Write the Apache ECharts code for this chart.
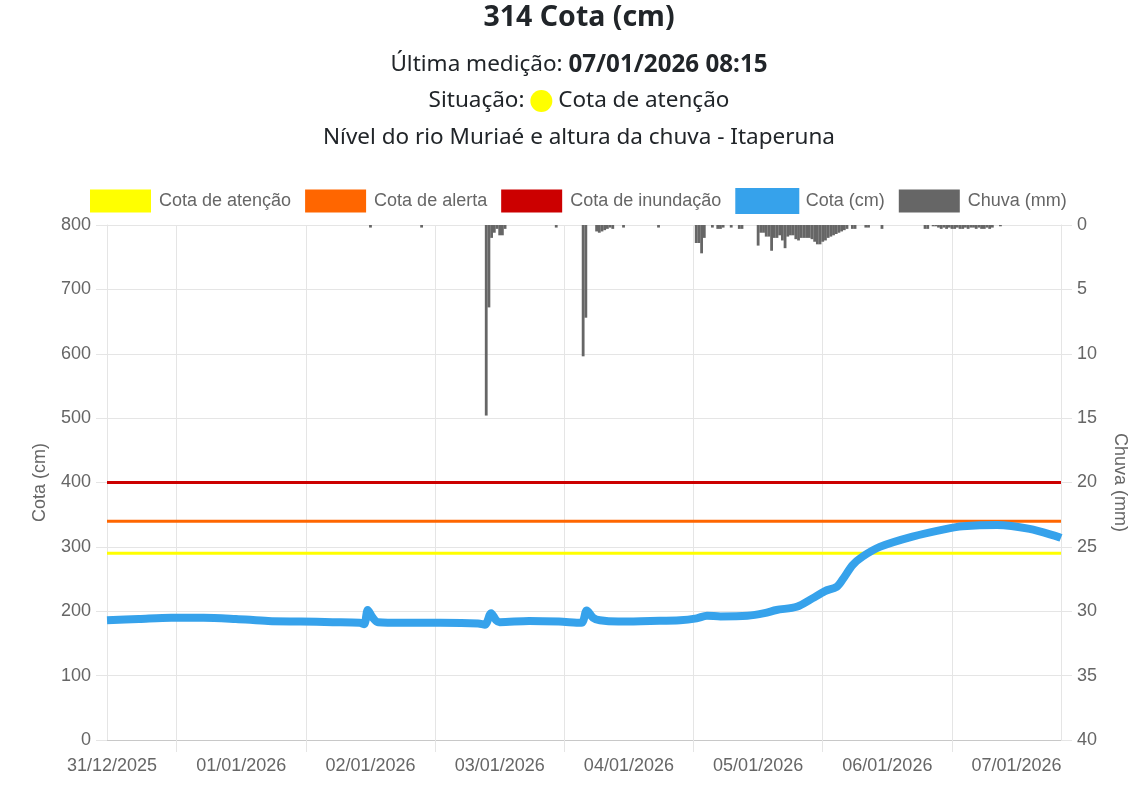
<!DOCTYPE html>
<html>
<head>
<meta charset="utf-8">
<script src="https://cdn.jsdelivr.net/npm/echarts@6/dist/echarts.min.js"></script>
<style>
html,body{margin:0;padding:0;background:#fff;}
#chart{width:1147px;height:785px;}
</style>
</head>
<body>
<div id="chart"></div>
<script>
// ---- data ----
const axisStart = "2025-12-30 23:04";
const axisEnd = "2026-01-07 08:15";
const dayLabels = ["2025-12-31 00:00","2026-01-01 00:00","2026-01-02 00:00","2026-01-03 00:00","2026-01-04 00:00","2026-01-05 00:00","2026-01-06 00:00","2026-01-07 00:00"];
const gridTimes = ["2025-12-31 12:00","2026-01-01 12:00","2026-01-02 12:00","2026-01-03 12:00","2026-01-04 12:00","2026-01-05 12:00","2026-01-06 12:00"];

const thresholdNames = ["Cota de atenção","Cota de alerta","Cota de inundação"];
const thresholdValues = [290, 340, 400];
const thresholdColors = ["#ffff00","#ff6600","#cc0000"];

const lineTimes = ["2025-12-30 23:04","2025-12-31 05:00","2025-12-31 11:00","2025-12-31 17:00","2025-12-31 23:00",
"2026-01-01 05:00","2026-01-01 11:00","2026-01-01 17:00","2026-01-01 22:00","2026-01-01 22:50","2026-01-01 23:30",
"2026-01-02 00:25","2026-01-02 01:25","2026-01-02 06:00","2026-01-02 13:00","2026-01-02 20:00","2026-01-02 21:15",
"2026-01-02 22:25","2026-01-02 23:20","2026-01-03 00:00","2026-01-03 05:30","2026-01-03 11:00","2026-01-03 15:10",
"2026-01-03 16:10","2026-01-03 17:20","2026-01-03 18:35","2026-01-03 22:00","2026-01-04 04:00","2026-01-04 09:30",
"2026-01-04 12:35","2026-01-04 14:30","2026-01-04 17:00","2026-01-04 22:00","2026-01-05 01:10","2026-01-05 03:25",
"2026-01-05 07:10","2026-01-05 10:05","2026-01-05 12:20","2026-01-05 14:35","2026-01-05 15:40","2026-01-05 17:35",
"2026-01-05 19:25","2026-01-05 22:35","2026-01-06 04:40","2026-01-06 11:00","2026-01-06 14:00","2026-01-06 20:20",
"2026-01-07 02:25","2026-01-07 07:35","2026-01-07 08:15"];
const lineValues = [186,188,190,190,188,
185,184,183,182,180,202,
190,183,182,182,181,179,
197,186,183,185,184,182,
201,190,186,184,185,186,
189,193,192,193,197,202,
207,220,231,238,249,272,
285,300,316,328,332,334,
328,316,314];

const rainTimes = ["2026-01-02 00:00","2026-01-02 09:30",
"2026-01-02 21:30","2026-01-02 22:00","2026-01-02 22:30","2026-01-02 23:00","2026-01-02 23:30","2026-01-03 00:00","2026-01-03 00:30","2026-01-03 01:00",
"2026-01-03 10:30","2026-01-03 15:30","2026-01-03 16:00",
"2026-01-03 18:00","2026-01-03 18:30","2026-01-03 19:00","2026-01-03 19:30","2026-01-03 20:00","2026-01-03 20:30","2026-01-03 21:00",
"2026-01-03 23:00","2026-01-04 05:30",
"2026-01-04 12:30","2026-01-04 13:00","2026-01-04 13:30","2026-01-04 14:00",
"2026-01-04 15:30","2026-01-04 16:30","2026-01-04 17:00","2026-01-04 17:30","2026-01-04 19:00","2026-01-04 20:30","2026-01-04 21:00",
"2026-01-05 00:00","2026-01-05 00:30","2026-01-05 01:00","2026-01-05 01:30","2026-01-05 02:00","2026-01-05 02:30","2026-01-05 03:00","2026-01-05 03:30",
"2026-01-05 04:00","2026-01-05 04:30","2026-01-05 05:00","2026-01-05 05:30","2026-01-05 06:00","2026-01-05 06:30","2026-01-05 07:00","2026-01-05 07:30",
"2026-01-05 08:00","2026-01-05 08:30","2026-01-05 09:00","2026-01-05 09:30","2026-01-05 10:00","2026-01-05 10:30","2026-01-05 11:00","2026-01-05 11:30",
"2026-01-05 12:00","2026-01-05 12:30","2026-01-05 13:00","2026-01-05 13:30","2026-01-05 14:00","2026-01-05 14:30","2026-01-05 15:00","2026-01-05 15:30",
"2026-01-05 16:00","2026-01-05 16:30","2026-01-05 17:30","2026-01-05 18:00","2026-01-05 20:00","2026-01-05 20:30","2026-01-05 23:00",
"2026-01-06 07:00","2026-01-06 07:30","2026-01-06 08:30","2026-01-06 09:00","2026-01-06 09:30","2026-01-06 10:00","2026-01-06 10:30","2026-01-06 11:00",
"2026-01-06 11:30","2026-01-06 12:00","2026-01-06 12:30","2026-01-06 13:00","2026-01-06 13:30","2026-01-06 14:00","2026-01-06 14:30","2026-01-06 15:00",
"2026-01-06 15:30","2026-01-06 16:00","2026-01-06 16:30","2026-01-06 17:00","2026-01-06 17:30","2026-01-06 18:00","2026-01-06 18:30","2026-01-06 19:00",
"2026-01-06 19:30","2026-01-06 21:00"];
const rainValues = [0.2,0.2,
14.8,6.4,1.0,0.6,0.3,0.8,0.8,0.3,
0.2,10.2,7.2,
0.5,0.6,0.5,0.4,0.3,0.2,0.3,
0.2,0.2,
1.4,1.4,2.2,1.0,
0.2,0.3,0.3,0.2,0.2,0.3,0.3,
1.6,0.6,0.6,0.9,0.9,2.0,1.0,1.0,
0.8,1.2,1.8,0.9,0.8,0.8,1.1,1.2,
1.0,1.0,1.0,1.0,1.1,1.3,1.5,1.5,
1.3,1.2,1.0,0.9,0.8,0.7,0.6,0.5,
0.4,0.3,0.3,0.3,0.2,0.2,0.3,
0.3,0.3,0.1,0.1,0.2,0.3,0.2,0.3,
0.2,0.3,0.3,0.2,0.3,0.3,0.2,0.3,
0.2,0.2,0.3,0.2,0.3,0.3,0.2,0.3,
0.2,0.1];

// ---- helpers ----
const T = s => Date.parse(s.replace(' ', 'T') + ':00Z');
const pad = n => (n < 10 ? '0' : '') + n;
const fmtDay = v => { const d = new Date(v); return pad(d.getUTCDate()) + '/' + pad(d.getUTCMonth() + 1) + '/' + d.getUTCFullYear(); };

const xMin = T(axisStart), xMax = T(axisEnd);
const AX = 'Liberation Sans, Arial, sans-serif';
const TX = 'Noto Sans, Open Sans, sans-serif';
const GRID = '#e5e5e5';

const series = [];
thresholdNames.forEach((n, i) => {
  series.push({
    name: n, type: 'line', yAxisIndex: 0, showSymbol: false, silent: true,
    data: [[xMin, thresholdValues[i]], [xMax, thresholdValues[i]]],
    lineStyle: { color: thresholdColors[i], width: 3 },
    itemStyle: { color: thresholdColors[i] }, z: 2
  });
});
series.push({
  name: 'Cota (cm)', type: 'line', yAxisIndex: 0, showSymbol: false, smooth: 0.3,
  data: lineTimes.map((s, i) => [T(s), lineValues[i]]),
  lineStyle: { color: '#36a2eb', width: 8 }, itemStyle: { color: '#36a2eb' }, z: 3
});
series.push({
  name: 'Chuva (mm)', type: 'bar', yAxisIndex: 1, barWidth: 2.8,
  data: rainTimes.map((s, i) => [T(s), rainValues[i]]),
  itemStyle: { color: '#666666' }, z: 4
});

const chart = echarts.init(document.getElementById('chart'));
chart.setOption({
  animation: false,
  backgroundColor: '#ffffff',
  graphic: [
    { type: 'text', x: 579, y: 18, style: { text: '314 Cota (cm)', align: 'center', verticalAlign: 'middle', fontSize: 28.5, fontWeight: 'bold', fontFamily: TX, fill: '#212529' } },
    { type: 'text', x: 579, y: 65, style: { text: 'Última medição: {b|07/01/2026 08:15}', align: 'center', verticalAlign: 'middle', fontSize: 22.5, fontFamily: TX, fill: '#212529',
      rich: { b: { fontSize: 24.2, fontWeight: 'bold', fontFamily: TX, fill: '#212529' } } } },
    { type: 'text', x: 579, y: 101, style: { text: 'Situação: {c| } Cota de atenção', align: 'center', verticalAlign: 'middle', fontSize: 22.5, fontFamily: TX, fill: '#212529',
      rich: { c: { width: 22, height: 22, backgroundColor: '#ffff00', borderRadius: 11 } } } },
    { type: 'text', x: 579, y: 138, style: { text: 'Nível do rio Muriaé e altura da chuva - Itaperuna', align: 'center', verticalAlign: 'middle', fontSize: 22.5, fontFamily: TX, fill: '#212529' } }
  ],
  legend: {
    top: 188, left: 90, padding: 0, itemWidth: 61, itemHeight: 23, itemGap: 14,
    textStyle: { fontSize: 18, color: '#666', fontFamily: AX, padding: [0, 0, 0, 3] },
    data: [
      { name: 'Cota de atenção', icon: 'rect' },
      { name: 'Cota de alerta', icon: 'rect' },
      { name: 'Cota de inundação', icon: 'rect' },
      { name: 'Cota (cm)', icon: 'rect', itemStyle: { borderColor: '#36a2eb', borderWidth: 3 } },
      { name: 'Chuva (mm)', icon: 'rect' }
    ]
  },
  grid: { left: 107, right: 86, top: 225, bottom: 45, containLabel: false },
  xAxis: {
    type: 'value', min: xMin, max: xMax,
    axisLine: { show: true, onZero: false, lineStyle: { color: '#c8c8c8' } },
    axisTick: { show: true, length: 12, customValues: gridTimes.map(T), lineStyle: { color: GRID } },
    axisLabel: { customValues: dayLabels.map(T), formatter: v => fmtDay(v), fontSize: 18, color: '#666', fontFamily: AX, margin: 17 },
    splitLine: { show: true, lineStyle: { color: GRID } }
  },
  yAxis: [
    {
      type: 'value', min: 0, max: 800, interval: 100, position: 'left',
      name: 'Cota (cm)', nameLocation: 'middle', nameGap: 58,
      nameTextStyle: { fontSize: 18, color: '#666', fontFamily: AX },
      axisLine: { show: true, lineStyle: { color: GRID } },
      axisTick: { show: true, length: 11, lineStyle: { color: GRID } },
      axisLabel: { fontSize: 18, color: '#666', fontFamily: AX, margin: 16 },
      splitLine: { show: true, lineStyle: { color: GRID } }
    },
    {
      type: 'value', min: 0, max: 40, interval: 5, position: 'right', inverse: true,
      name: 'Chuva (mm)', nameLocation: 'middle', nameGap: 50, nameRotate: -90,
      nameTextStyle: { fontSize: 18, color: '#666', fontFamily: AX },
      axisLine: { show: true, lineStyle: { color: GRID } },
      axisTick: { show: true, length: 11, lineStyle: { color: GRID } },
      axisLabel: { fontSize: 18, color: '#666', fontFamily: AX, margin: 16 },
      splitLine: { show: false }
    }
  ],
  series: series
});
</script>
</body>
</html>
